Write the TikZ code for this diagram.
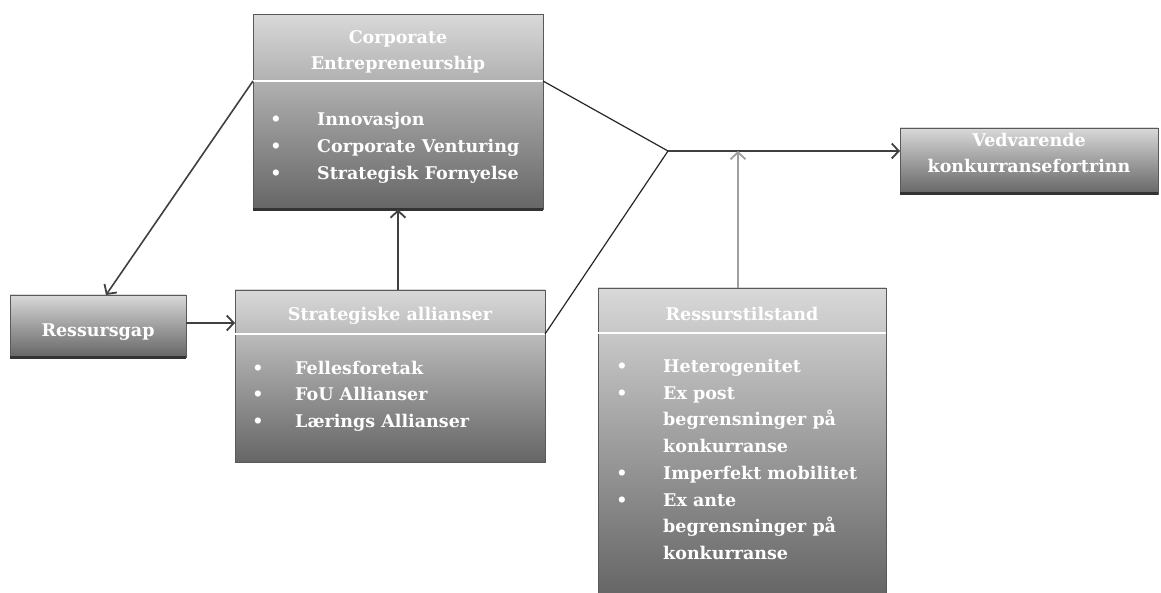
\documentclass[tikz,border=0pt]{standalone}
\usepackage{fontspec}
\setmainfont{DejaVu Serif}
\usetikzlibrary{arrows.meta}
\begin{document}
\begin{tikzpicture}[x=1pt,y=-1pt,
 box/.style={rectangle, inner sep=0pt, outer sep=0pt, draw=black!65, line width=0.8pt,
   top color=black!15, bottom color=black!60, middle color=black!38},
 hdr/.style={white, line width=1.6pt},
 shad/.style={line width=3pt, black!80},
 ttl/.style={text=white, font=\bfseries\fontsize{17.5}{27}\selectfont, inner sep=0pt, anchor=base},
 itm/.style={text=white, font=\bfseries\fontsize{17.5}{27}\selectfont, inner sep=0pt, anchor=base west},
 bul/.style={text=white, font=\bfseries\fontsize{17.5}{27}\selectfont, inner sep=0pt, anchor=base},
 link/.style={line width=1.2pt, black!85},
 arr/.style={line width=1.6pt, black!75, -{Straight Barb[length=7pt,width=15pt,line width=1.8pt]}},
 garr/.style={line width=1.6pt, gray!75, -{Straight Barb[length=7pt,width=15pt,line width=1.8pt]}},
]
\useasboundingbox[fill=white] (0,0) rectangle (1161,593);

% Corporate Entrepreneurship
\node[box, minimum width=290pt, minimum height=195pt] (corp) at (398,112) {};
\draw[shad] (corp.south west) -- (corp.south east);
\coordinate (corpHL) at (253,81);
\coordinate (corpHR) at (543,81);
\draw[hdr] (corpHL) -- (corpHR);
\node[ttl] (corpT1) at (398,44) {Corporate};
\node[ttl] (corpT2) at (398,70) {Entrepreneurship};
\node[bul] (cb1) at (276,126) {•};
\node[bul] (cb2) at (276,153) {•};
\node[bul] (cb3) at (276,180) {•};
\node[itm] (ci1) at (317,126) {Innovasjon};
\node[itm] (ci2) at (317,153) {Corporate Venturing};
\node[itm] (ci3) at (317,180) {Strategisk Fornyelse};

% Ressursgap
\node[box, minimum width=176pt, minimum height=62pt] (gap) at (98,326) {};
\draw[shad] (gap.south west) -- (gap.south east);
\node[ttl] (gapT) at (98,337) {Ressursgap};

% Strategiske allianser
\node[box, minimum width=310pt, minimum height=172pt] (strat) at (390,376) {};
\coordinate (stratHL) at (235,334);
\coordinate (stratHR) at (545,334);
\draw[hdr] (stratHL) -- (stratHR);
\node[ttl] (stratT) at (390,320) {Strategiske allianser};
\node[bul] (sb1) at (258,374) {•};
\node[bul] (sb2) at (258,400) {•};
\node[bul] (sb3) at (258,427) {•};
\node[itm] (si1) at (295,374) {Fellesforetak};
\node[itm] (si2) at (295,400) {FoU Allianser};
\node[itm] (si3) at (295,427) {Lærings Allianser};

% Ressurstilstand
\node[box, minimum width=288pt, minimum height=306pt] (res) at (742,441) {};
\draw[hdr] (598,333) -- (886,333);
\node[ttl] (resT) at (742,320) {Ressurstilstand};
\node[bul] (rb1) at (622,372) {•};
\node[bul] (rb2) at (622,399) {•};
\node[bul] (rb3) at (622,479) {•};
\node[bul] (rb4) at (622,506) {•};
\node[itm] (ri1) at (663,372) {Heterogenitet};
\node[itm] (ri2) at (663,399) {Ex post};
\node[itm] (ri3) at (663,425) {begrensninger på};
\node[itm] (ri4) at (663,452) {konkurranse};
\node[itm] (ri5) at (663,479) {Imperfekt mobilitet};
\node[itm] (ri6) at (663,506) {Ex ante};
\node[itm] (ri7) at (663,532) {begrensninger på};
\node[itm] (ri8) at (663,559) {konkurranse};

% Vedvarende konkurransefortrinn
\node[box, minimum width=258pt, minimum height=66pt] (ved) at (1029,161) {};
\draw[shad] (ved.south west) -- (ved.south east);
\node[ttl] (vedT1) at (1029,147) {Vedvarende};
\node[ttl] (vedT2) at (1029,173) {konkurransefortrinn};

% connectors
\coordinate (junc) at (668,151);
\draw[arr] (corpHL) -- ([xshift=8pt]gap.north);
\draw[arr] (gap.east |- 0,323) -- (strat.west |- 0,323);
\draw[arr] (corp.south |- strat.north) -- (corp.south);
\draw[link] (corpHR) -- (junc);
\draw[link] (stratHR) -- (junc);
\draw[arr] (junc) -- (junc -| ved.west);
\draw[garr] (res.north -| 738,0) -- (junc -| 738,0);
\end{tikzpicture}
\end{document}
